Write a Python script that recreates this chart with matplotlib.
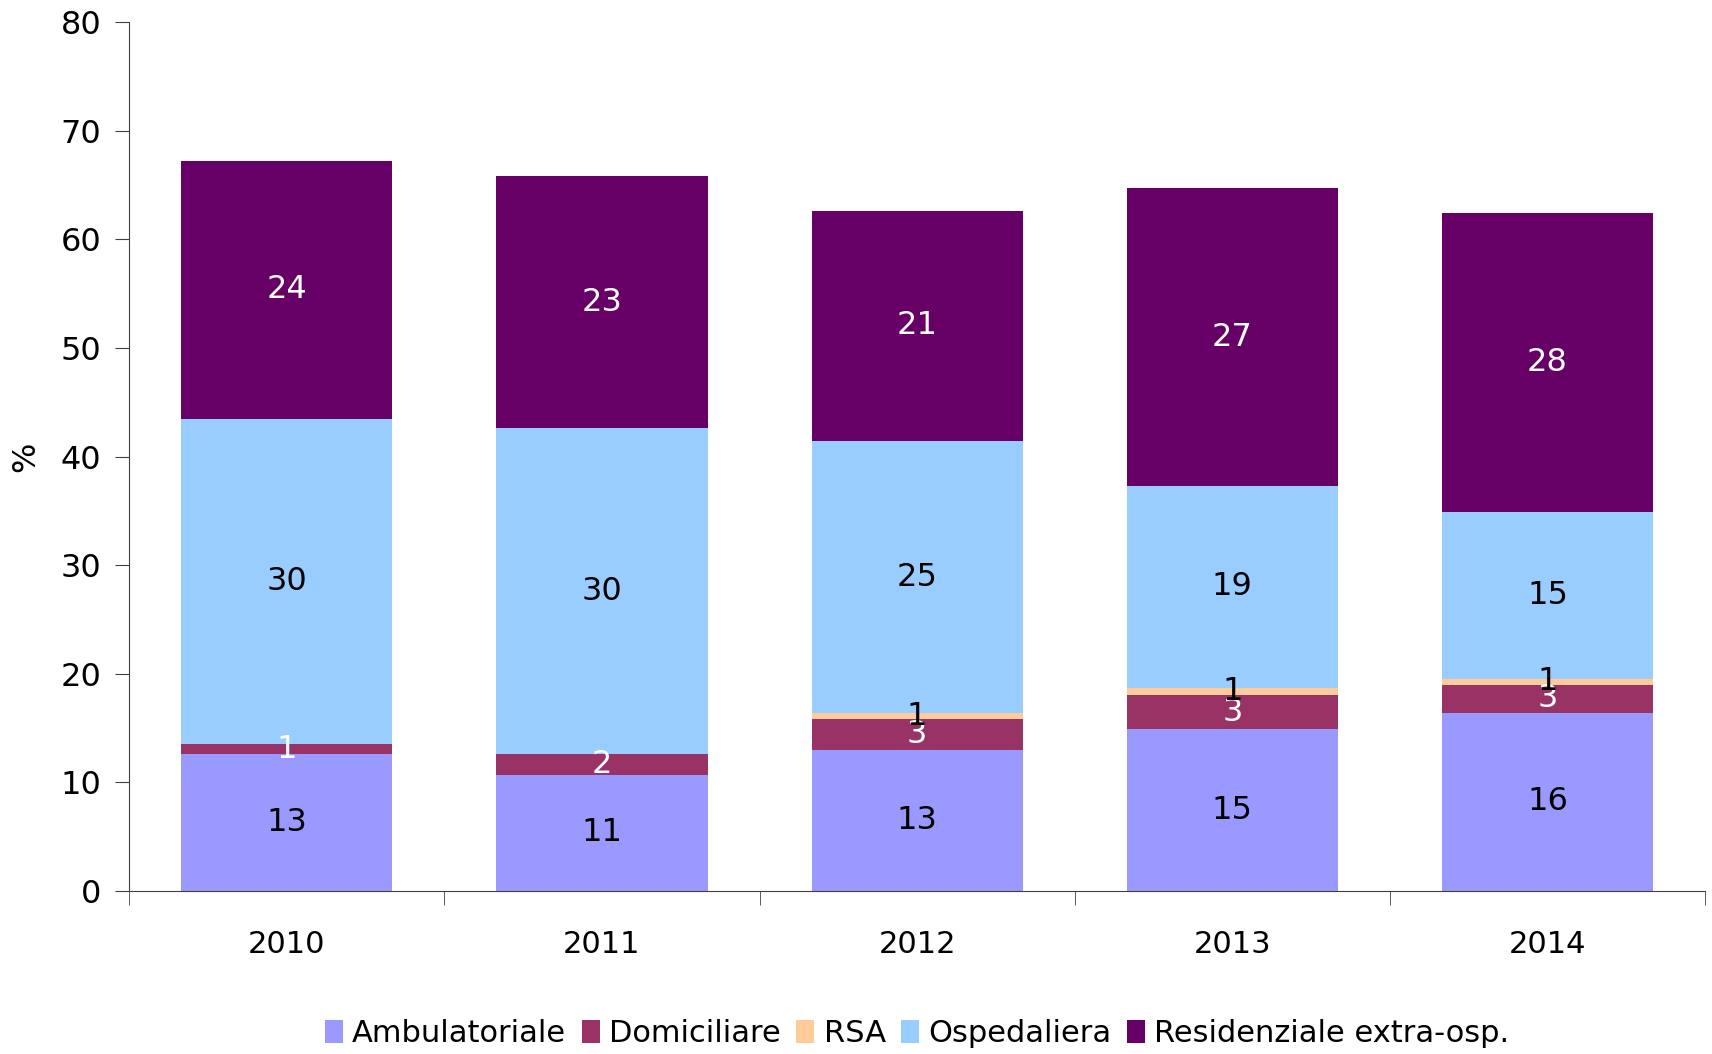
import numpy as np
import matplotlib
matplotlib.use("Agg")
import matplotlib.pyplot as plt

plt.rcParams['font.family'] = ['DejaVu Sans']

years = ["2010", "2011", "2012", "2013", "2014"]
series = ["Ambulatoriale", "Domiciliare", "RSA", "Ospedaliera", "Residenziale extra-osp."]
ambulatoriale = [12.6, 10.7, 13.0, 14.9, 16.4]
domiciliare = [0.9, 1.9, 2.8, 3.1, 2.6]
rsa = [0.0, 0.0, 0.55, 0.7, 0.55]
ospedaliera = [30.0, 30.0, 25.1, 18.6, 15.3]
residenziale = [23.7, 23.2, 21.2, 27.4, 27.6]

colors = ["#9999FF", "#993366", "#FFCC99", "#99CCFF", "#660066"]
label_colors = ["black", "white", "black", "black", "white"]

data = [ambulatoriale, domiciliare, rsa, ospedaliera, residenziale]

fig = plt.figure(figsize=(17.12, 10.54), dpi=100)
ax = fig.add_axes([0.0754, 0.1547, 0.9206, 0.8243])

x = np.arange(len(years))
bottom = np.zeros(len(years))
for vals, name, c, lc in zip(data, series, colors, label_colors):
    vals = np.array(vals)
    ax.bar(x, vals, 0.67, bottom=bottom, color=c, label=name, linewidth=0)
    for xi, v, b in zip(x, vals, bottom):
        if np.floor(v + 0.5) >= 1:
            ax.text(xi, b + v / 2, "%d" % np.floor(v + 0.5), ha="center", va="center",
                    color=lc, fontsize=23)
    bottom += vals

ax.set_xlim(-0.5, len(years) - 0.5)
ax.set_ylim(0, 80)
ax.set_yticks(range(0, 81, 10))
ax.set_xticks(x)
ax.set_xticklabels(years, fontsize=22)
ax.set_xticks(np.arange(-0.5, len(years)), minor=True)
ax.tick_params(axis="x", which="major", length=0, pad=28)
ax.tick_params(axis="x", which="minor", length=10, direction="out", color="#404040")
ax.tick_params(axis="y", labelsize=23, length=10, direction="out", color="#404040", pad=10)
ax.set_ylabel("%", fontsize=23, labelpad=14)
for s in ["top", "right"]:
    ax.spines[s].set_visible(False)
ax.spines["left"].set_color("#404040")
ax.spines["bottom"].set_color("#404040")

ax.legend(loc="lower center", bbox_to_anchor=(0.5, -0.202), ncol=5, frameon=False,
          fontsize=22, handlelength=0.6, handleheight=0.8, handletextpad=0.3,
          columnspacing=0.5, borderaxespad=0.2)

fig.savefig("out.png", dpi=100)
